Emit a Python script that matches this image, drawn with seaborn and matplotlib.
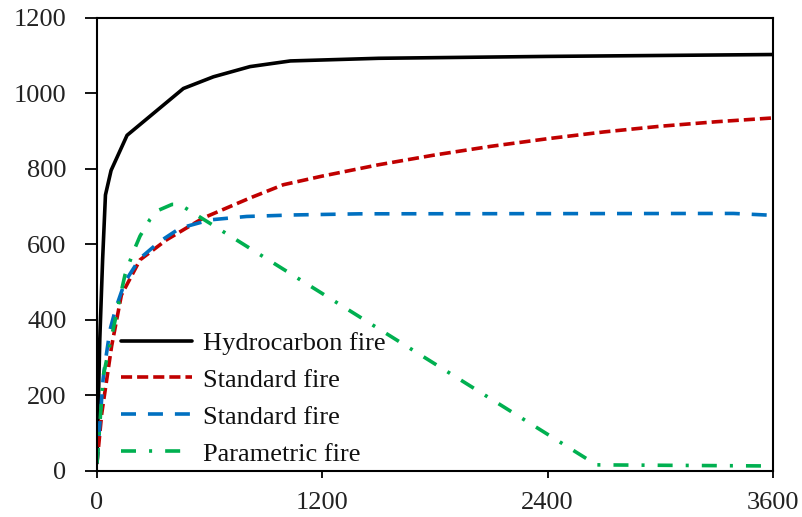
import matplotlib
matplotlib.use("Agg")
import matplotlib.pyplot as plt
import seaborn as sns
import pandas as pd

# ---- data ----
hc_time = [0, 15, 30, 45, 75, 160, 460, 620, 815, 1030, 1500, 2400, 3600]
hc_temp = [20, 350, 560, 730, 795, 888, 1012, 1043, 1070, 1085, 1092, 1097, 1102]

std_time = [0, 25, 78, 130, 229, 370, 566, 815, 992, 1200, 1500, 1800, 2100, 2400, 2700, 3000, 3300, 3600]
std_temp = [20, 150, 330, 465, 558, 611, 669, 722, 757, 780, 810, 836, 859, 879, 897, 912, 924, 934]

std2_time = [0, 32, 43, 69, 100, 149, 229, 335, 442, 602, 797, 1045, 1400, 3390, 3600]
std2_temp = [20, 240, 284, 372, 430, 500, 562, 607, 642, 664, 673, 677, 680, 681, 676]

par_time = [0, 34, 131, 149, 194, 229, 282, 330, 400, 440, 2660, 3600]
par_temp = [20, 253, 478, 518, 580, 621, 665, 690, 705, 705, 15, 12]

labels = ["Hydrocarbon fire", "Standard fire", "Standard fire", "Parametric fire"]
x_ticks = [0, 1200, 2400, 3600]
y_ticks = [0, 200, 400, 600, 800, 1000, 1200]

sns.set_theme(style="white")
plt.rcParams["font.family"] = ["Liberation Serif", "DejaVu Serif"]
plt.rcParams["lines.scale_dashes"] = False

fig = plt.figure(figsize=(8.03, 5.17), dpi=100)
ax = fig.add_axes([0.1208, 0.0899, 0.8418, 0.8762])

series = [
    (hc_time, hc_temp, "#000000", "-"),
    (std_time, std_temp, "#C00000", (0, (8, 3.6))),
    (std2_time, std2_temp, "#0070C0", (0, (10.8, 8.6))),
    (par_time, par_temp, "#00B050", (0, (10.8, 9.4, 2.2, 9.4))),
]
for (t, T, c, ls), lab in zip(series, labels):
    df = pd.DataFrame({"t": t, "T": T})
    sns.lineplot(data=df, x="t", y="T", ax=ax, color=c, linestyle=ls,
                 linewidth=2.6, label=lab, sort=False, estimator=None)

ax.set_xlim(0, 3600)
ax.set_ylim(0, 1200)
ax.set_xticks(x_ticks)
ax.set_yticks(y_ticks)
ax.set_xlabel("")
ax.set_ylabel("")
for s in ax.spines.values():
    s.set_visible(True)
    s.set_color("black")
    s.set_linewidth(1.5)
ax.tick_params(axis="both", which="major", direction="out", width=1.3,
               colors="black", labelsize=19, bottom=True, left=True, top=False, right=False)
ax.tick_params(axis="x", length=5, pad=10.5)
ax.tick_params(axis="y", length=8.5, pad=13.5)
for lbl in ax.get_xticklabels() + ax.get_yticklabels():
    lbl.set_color("#222222")

leg = ax.legend(loc="lower left", bbox_to_anchor=(0.0355, 0.011), frameon=False,
                fontsize=19, handlelength=2.7, handletextpad=0.42,
                labelspacing=0.51, borderpad=0.0, borderaxespad=0.0)
for txt in leg.get_texts():
    txt.set_color("#111111")

fig.savefig("out.png", dpi=100)
